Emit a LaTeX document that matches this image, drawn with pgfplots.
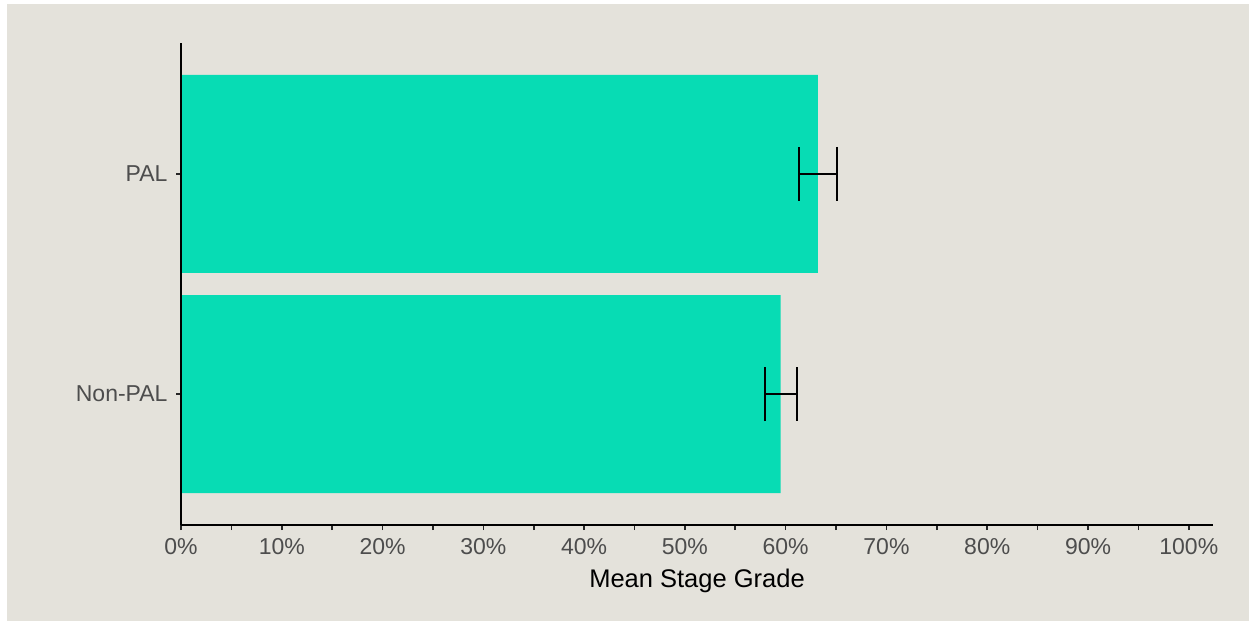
\documentclass[border=0pt]{standalone}
\usepackage{pgfplots}
\pgfplotsset{compat=1.18}
\usepackage{fontspec}
\setmainfont{Liberation Sans}
\definecolor{bgbeige}{RGB}{228,226,219}
\definecolor{barteal}{RGB}{7,220,180}
\definecolor{ticklab}{RGB}{77,77,77}
\begin{document}
\begin{tikzpicture}
\useasboundingbox (0,0) rectangle (1249bp,621bp);
\fill[white] (0,0) rectangle (1249bp,621bp);
\fill[bgbeige] (7bp,0) rectangle (1249bp,617bp);
\begin{axis}[
  at={(181bp,96bp)}, anchor=south west,
  scale only axis,
  width=1032bp, height=482bp,
  xmin=0, xmax=102.4,
  ymin=0.405, ymax=2.595,
  axis on top,
  axis x line*=bottom, axis y line*=left,
  axis line style={line width=2.2bp, black, -},
  xbar, bar width=0.9,
  xtick={0,10,...,100},
  xticklabels={0\%,10\%,20\%,30\%,40\%,50\%,60\%,70\%,80\%,90\%,100\%},
  minor x tick num=1,
  ytick={1,2}, yticklabels={Non-PAL,PAL},
  tick align=outside,
  major tick length=5bp, minor tick length=5bp,
  tick style={line width=1.6bp, black!85},
  ticklabel style={font=\fontsize{23bp}{27bp}\selectfont, text=ticklab},
  xticklabel style={yshift=-5bp},
  yticklabel style={xshift=-5bp},
  xlabel={Mean Stage Grade},
  xlabel style={font=\fontsize{25.5bp}{30bp}\selectfont, text=black, yshift=-7bp},
]
\addplot[fill=barteal, draw=none,
  error bars/.cd, x dir=both, x explicit,
  error mark=|,
  error bar style={line width=2bp, black},
  error mark options={line width=2bp, black, mark size=27bp}]
  coordinates {
    (59.5,1) +- (1.6,0)
    (63.2,2) +- (1.85,0)
  };
\end{axis}
\end{tikzpicture}
\end{document}
